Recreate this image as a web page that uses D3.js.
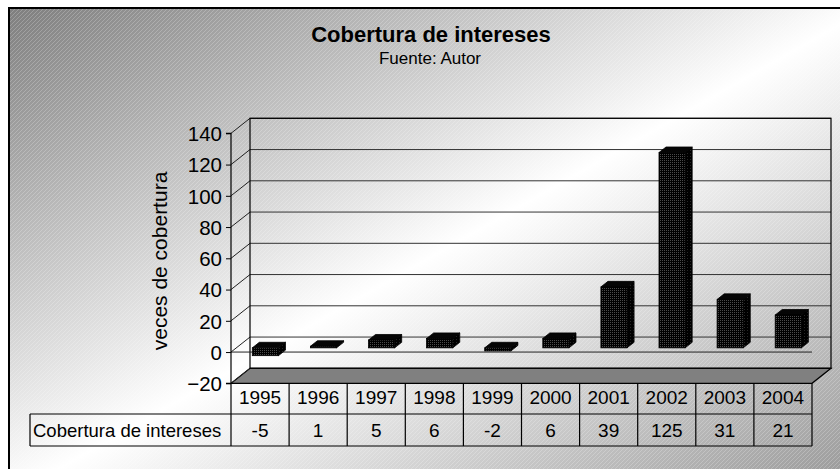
<!DOCTYPE html>
<html>
<head>
<meta charset="utf-8">
<script src="https://cdn.jsdelivr.net/npm/d3@7"></script>
<style>
html,body{margin:0;padding:0;background:#fff;}
svg{display:block;}
text{font-family:"Liberation Sans",Arial,sans-serif;fill:#000;}
</style>
</head>
<body>
<svg id="chart" width="840" height="469"></svg>
<script>
// ---- data ----
const categories = ["1995","1996","1997","1998","1999","2000","2001","2002","2003","2004"];
const values = [-5, 1, 5, 6, -2, 6, 39, 125, 31, 21];
const seriesName = "Cobertura de intereses";
const yTicks = [-20, 0, 20, 40, 60, 80, 100, 120, 140];
const titleText = "Cobertura de intereses";
const subtitleText = "Fuente: Autor";
const yLabel = "veces de cobertura";

// ---- layout ----
const W = 840, H = 469;
const left = 231, right = 812;
const DX = 19, DY = 15;           // wall depth offset
const f1 = 0.28, f2 = 0.65;        // bar depth fractions
const svg = d3.select("#chart");
const defs = svg.append("defs");

const bg = defs.append("linearGradient").attr("id","bg")
  .attr("x1",0).attr("y1",0).attr("x2",1).attr("y2",1);
bg.append("stop").attr("offset",0).attr("stop-color","#7e7e7e");
bg.append("stop").attr("offset",0.5).attr("stop-color","#ffffff");
bg.append("stop").attr("offset",1).attr("stop-color","#939393");

const hatch = defs.append("pattern").attr("id","hatch")
  .attr("patternUnits","userSpaceOnUse").attr("width",4).attr("height",4);
hatch.append("path").attr("d","M-1,1 L1,-1 M0,4 L4,0 M3,5 L5,3")
  .attr("stroke","rgba(255,255,255,0.22)").attr("stroke-width",1);

const dots = defs.append("pattern").attr("id","dots")
  .attr("patternUnits","userSpaceOnUse").attr("width",2).attr("height",2);
dots.append("rect").attr("width",2).attr("height",2).attr("fill","#000");
dots.append("rect").attr("width",1).attr("height",1).attr("fill","#4a4a4a");

const dotsSide = defs.append("pattern").attr("id","dotsSide")
  .attr("patternUnits","userSpaceOnUse").attr("width",3).attr("height",3);
dotsSide.append("rect").attr("width",3).attr("height",3).attr("fill","#000");
dotsSide.append("rect").attr("width",1).attr("height",1).attr("fill","#262626");

// background + frame
svg.append("rect").attr("x",9).attr("y",8).attr("width",W+20).attr("height",H+20)
  .attr("fill","url(#bg)");
svg.append("rect").attr("x",9).attr("y",8).attr("width",W+20).attr("height",H+20)
  .attr("fill","url(#hatch)");
svg.append("rect").attr("x",9).attr("y",8).attr("width",W+20).attr("height",H+20)
  .attr("fill","none").attr("stroke","#000").attr("stroke-width",2);

// scales
const x = d3.scaleBand().domain(categories).range([left, right]).padding(0);
const y = d3.scaleLinear().domain([-20, 140]).range([383.3, 133.3]);
const bw = x.bandwidth();
const barW = bw * 0.45;

// titles
svg.append("text").attr("x",431).attr("y",42).attr("text-anchor","middle")
  .attr("font-size",22).attr("font-weight","bold").text(titleText);
svg.append("text").attr("x",430).attr("y",64).attr("text-anchor","middle")
  .attr("font-size",17).text(subtitleText);

// walls
const g = svg.append("g");
const yMin = y(-20), yMax = y(140);
// floor
g.append("polygon")
  .attr("points",[[left,yMin],[right,yMin],[right+DX,yMin-DY],[left+DX,yMin-DY]].join(" "))
  .attr("fill","#808080").attr("stroke","#000").attr("stroke-width",1.2);
// back wall gridlines
g.selectAll("line.bgrid").data(yTicks).join("line").attr("class","bgrid")
  .attr("x1",left+DX).attr("x2",right+DX)
  .attr("y1",d=>y(d)-DY).attr("y2",d=>y(d)-DY)
  .attr("stroke","#333").attr("stroke-width",1);
// side wall gridlines
g.selectAll("line.sgrid").data(yTicks).join("line").attr("class","sgrid")
  .attr("x1",left).attr("x2",left+DX)
  .attr("y1",d=>y(d)).attr("y2",d=>y(d)-DY)
  .attr("stroke","#222").attr("stroke-width",1);
// back wall border
g.append("rect").attr("x",left+DX).attr("y",yMax-DY)
  .attr("width",right-left).attr("height",yMin-yMax)
  .attr("fill","none").attr("stroke","#000").attr("stroke-width",1.2);
// front zero line
g.append("line").attr("x1",left).attr("x2",right)
  .attr("y1",y(0)).attr("y2",y(0)).attr("stroke","#222").attr("stroke-width",1);

// bars
const dxb = (f2-f1)*DX, dyb = (f2-f1)*DY;
const ox1 = f1*DX, oy1 = -f1*DY;
const bars = g.selectAll("g.bar").data(categories.map((c,i)=>({c, v: values[i]}))).join("g").attr("class","bar");
bars.each(function(d){
  const sel = d3.select(this);
  const cx = x(d.c) + bw/2 + ox1;
  const x0 = cx - barW/2, x1 = cx + barW/2;
  const yt = y(Math.max(d.v,0)) + oy1, yb = y(Math.min(d.v,0)) + oy1;
  sel.append("polygon")
    .attr("points",[[x1,yt],[x1+dxb,yt-dyb],[x1+dxb,yb-dyb],[x1,yb]].join(" "))
    .attr("fill","url(#dotsSide)").attr("stroke","#000").attr("stroke-width",0.8);
  sel.append("polygon")
    .attr("points",[[x0,yt],[x0+dxb,yt-dyb],[x1+dxb,yt-dyb],[x1,yt]].join(" "))
    .attr("fill","#050505").attr("stroke","#000").attr("stroke-width",0.8);
  sel.append("rect").attr("x",x0).attr("y",yt).attr("width",x1-x0).attr("height",Math.max(yb-yt,0.5))
    .attr("fill","url(#dots)").attr("stroke","#000").attr("stroke-width",0.8);
});

// y axis
const yAxis = d3.axisLeft(y).tickValues(yTicks).tickSize(5).tickPadding(4).tickFormat(d3.format("d"));
const ax = svg.append("g").attr("transform",`translate(${left},0)`).call(yAxis);
ax.select(".domain").attr("stroke","#000").attr("stroke-width",1.2).attr("d",`M-5,${yMax}H0V${yMin}H-5`);
ax.selectAll(".tick line").attr("stroke","#000");
ax.selectAll(".tick text").attr("font-size",20.5).attr("font-family","Liberation Sans, Arial, sans-serif").attr("fill","#000").attr("dy","0.36em");

// y label
svg.append("text").attr("transform","translate(167,261) rotate(-90)")
  .attr("text-anchor","middle").attr("font-size",21).text(yLabel);

// data table
const r0 = yMin, r1 = 414, r2 = 446, labelLeft = 30;
const t = svg.append("g");
t.selectAll("line.col").data(categories.map(c=>x(c)).concat([right])).join("line").attr("class","col")
  .attr("x1",d=>d).attr("x2",d=>d).attr("y1",r0).attr("y2",r2)
  .attr("stroke","#000").attr("stroke-width",1.2);
t.append("line").attr("x1",labelLeft).attr("x2",right).attr("y1",r1).attr("y2",r1).attr("stroke","#000").attr("stroke-width",1.2);
t.append("line").attr("x1",labelLeft).attr("x2",right).attr("y1",r2).attr("y2",r2).attr("stroke","#000").attr("stroke-width",1.2);
t.append("line").attr("x1",labelLeft).attr("x2",labelLeft).attr("y1",r1).attr("y2",r2).attr("stroke","#000").attr("stroke-width",1.2);
t.selectAll("text.yr").data(categories).join("text").attr("class","yr")
  .attr("x",d=>x(d)+bw/2).attr("y",404).attr("text-anchor","middle").attr("font-size",19).text(d=>d);
t.selectAll("text.val").data(values).join("text").attr("class","val")
  .attr("x",(d,i)=>x(categories[i])+bw/2).attr("y",437).attr("text-anchor","middle").attr("font-size",19).text(d=>d);
t.append("text").attr("x",33).attr("y",437).attr("font-size",18.5).text(seriesName);
</script>
</body>
</html>
